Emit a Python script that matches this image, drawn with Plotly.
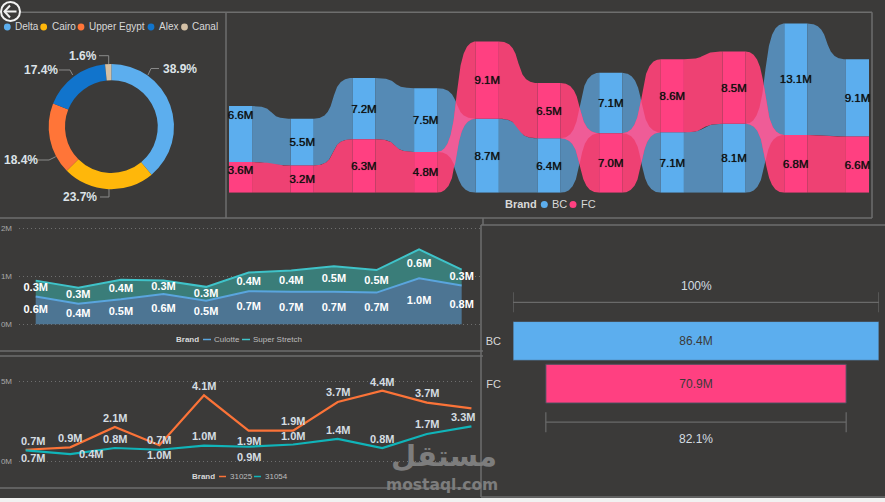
import numpy as np
import plotly.graph_objects as go

W, H = 885, 502
BG = "#3b3a39"
FONT = "Liberation Sans"

# Donut
region_names = ["Delta", "Cairo", "Upper Egypt", "Alex", "Canal"]
region_share = [38.9, 23.7, 18.4, 17.4, 1.6]
region_colors = ["#5caeee", "#ffb70a", "#ff7538", "#1174cc", "#d4c0a5"]

# Ribbon
ribbon_bc = [6.6, 5.5, 7.2, 7.5, 8.7, 6.4, 7.1, 7.1, 8.1, 13.1, 9.1]
ribbon_fc = [3.6, 3.2, 6.3, 4.8, 9.1, 6.5, 7.0, 8.6, 8.5, 6.8, 6.6]

# Stacked area
culotte = [0.58, 0.43, 0.52, 0.63, 0.49, 0.69, 0.68, 0.68, 0.66, 0.96, 0.81]
super_stretch = [0.33, 0.33, 0.41, 0.28, 0.29, 0.39, 0.44, 0.53, 0.47, 0.60, 0.33]

# Lines
style_31025 = [0.71, 0.86, 2.14, 1.0, 4.14, 1.91, 1.91, 3.72, 4.44, 3.68, 3.32]
style_31054 = [0.67, 0.44, 0.82, 0.71, 0.97, 0.90, 1.04, 1.39, 0.82, 1.70, 2.18]

# Funnel
funnel_brands = ["BC", "FC"]
funnel_values = [86.4, 70.9]

BLUE, PINK = "#5caeee", "#ff4081"
BLUE_RIBBON, PINK_RIBBON = "#558ab5", "#ee4173"
PINK_CROSS = "#ef5c97"
LINE = "#6e6e6e"


def px(x):
    return x / W


def py(y):
    return 1 - y / H


def dom_x(a, b):
    return [px(a), px(b)]


def dom_y(top, bottom):
    return [py(bottom), py(top)]


def fmt(v):
    return f"{v:.1f}M"


shapes, annotations = [], []


def hline(x0, y0, x1, y1, color=LINE, width=1.5):
    shapes.append(dict(type="line", xref="paper", yref="paper", x0=px(x0), y0=py(y0),
                       x1=px(x1), y1=py(y1), line=dict(color=color, width=width)))


def poly(points, color="#8a8a8a", width=1):
    path = "M " + " L ".join(f"{px(a):.5f} {py(b):.5f}" for a, b in points)
    shapes.append(dict(type="path", xref="paper", yref="paper", path=path,
                       line=dict(color=color, width=width)))


def dot(cx, cy, r, color):
    shapes.append(dict(type="circle", xref="paper", yref="paper", x0=px(cx - r), x1=px(cx + r),
                       y0=py(cy + r), y1=py(cy - r), fillcolor=color, line=dict(width=0)))


def label(x, y, text, size=10, color="#d6d6d6", bold=False, anchor="left", family=FONT, shadow=None):
    f = dict(family=family, size=size, color=color)
    if shadow:
        f["shadow"] = shadow
    annotations.append(dict(xref="paper", yref="paper", x=px(x), y=py(y), xanchor=anchor, yanchor="middle",
                            text=f"<b>{text}</b>" if bold else text, showarrow=False, font=f))


fig = go.Figure()

# ---- Donut of regional share ----
fig.add_trace(go.Pie(values=region_share, labels=region_names, sort=False, direction="clockwise",
                     rotation=0, hole=0.74, textinfo="none", showlegend=False,
                     marker=dict(colors=region_colors, line=dict(width=0)),
                     domain=dict(x=dom_x(48.7, 174), y=dom_y(64, 189.3))))

legend_layout = [(7.3, 13), (43.7, 49.5), (81, 87), (151, 157), (184.5, 190)]
for (cx, tx), name, col in zip(legend_layout, region_names, region_colors):
    dot(cx, 27, 3.4, col)
    label(tx, 27, name, size=10, color="#d8d8d8")

donut_labels = [(180, 68.5), (80, 197), (21, 160), (40.7, 69.5), (83, 55.7)]
donut_leaders = [
    [(148, 75), (151, 68.5), (159, 68.5)],
    [(109, 189), (109, 197), (100, 197)],
    [(55.7, 156.7), (49, 160), (38, 160)],
    [(72.7, 75), (70, 70), (59, 70)],
    [(108.7, 64), (108.7, 55.7), (99, 55.7)],
]
for (x, y), leader, v in zip(donut_labels, donut_leaders, region_share):
    poly(leader)
    label(x, y, f"{v:.1f}%", size=12, color="#dce3e8", bold=True, anchor="center")

# ---- Ribbon of BC vs FC, stacked largest on top ----
n_cols = len(ribbon_bc)
half = 0.187
curve = 0.7


def bands(i):
    bc, fc = ribbon_bc[i], ribbon_fc[i]
    if bc >= fc:
        return dict(BC=(fc, fc + bc), FC=(0, fc))
    return dict(BC=(0, bc), FC=(bc, bc + fc))


t = np.linspace(0, 1, 161)
x_frac = 3 * t * (1 - t) ** 2 * curve + 3 * t ** 2 * (1 - t) * (1 - curve) + t ** 3
y_frac = 3 * t ** 2 - 2 * t ** 3
for i in range(n_cols - 1):
    x0, x1 = i + half, i + 1 - half
    xs = x0 + (x1 - x0) * x_frac
    a, b = bands(i), bands(i + 1)
    edges = {}
    for brand, color in (("BC", BLUE_RIBBON), ("FC", PINK_RIBBON)):
        lo = a[brand][0] + (b[brand][0] - a[brand][0]) * y_frac
        hi = a[brand][1] + (b[brand][1] - a[brand][1]) * y_frac
        edges[brand] = (lo, hi)
        fig.add_trace(go.Scatter(x=np.r_[xs, xs[::-1]], y=np.r_[hi, lo[::-1]], fill="toself", mode="lines",
                                 line=dict(width=0), fillcolor=color, hoverinfo="skip", showlegend=False,
                                 xaxis="x", yaxis="y"))
    # Where the two ribbons swap order they overlap in a lighter pink
    grid = np.linspace(x0, x1, 200)
    lo = np.maximum(np.interp(grid, xs, edges["BC"][0]), np.interp(grid, xs, edges["FC"][0]))
    hi = np.minimum(np.interp(grid, xs, edges["BC"][1]), np.interp(grid, xs, edges["FC"][1]))
    keep = hi > lo + 1e-6
    if keep.any():
        gx, glo, ghi = grid[keep], lo[keep], hi[keep]
        fig.add_trace(go.Scatter(x=np.r_[gx, gx[::-1]], y=np.r_[ghi, glo[::-1]], fill="toself", mode="lines",
                                 line=dict(width=0), fillcolor=PINK_CROSS, hoverinfo="skip", showlegend=False,
                                 xaxis="x", yaxis="y"))

cols = list(range(n_cols))
for brand, values, color in (("BC", ribbon_bc, BLUE), ("FC", ribbon_fc, PINK)):
    base = [bands(i)[brand][0] for i in cols]
    fig.add_trace(go.Bar(x=cols, y=values, base=base, width=2 * half, marker=dict(color=color, line=dict(width=0)),
                         showlegend=False, hoverinfo="skip", xaxis="x", yaxis="y"))
    # Labels sit at each band's middle, except the first column where they ride higher
    mids = [base[i] + values[i] / 2 - 0.15 + ((2.2 if brand == "BC" else 0.85) if i == 0 else 0) for i in cols]
    fig.add_trace(go.Scatter(x=cols, y=mids, mode="text", text=[fmt(v) for v in values], cliponaxis=False,
                             textfont=dict(family=FONT, size=11.5, color="#111111", shadow="0 0 0.7px #111111"),
                             showlegend=False, hoverinfo="skip", xaxis="x", yaxis="y"))

label(503, 204, "Brand", size=11, color="#d8d8d8", bold=True)
dot(544.3, 204.5, 3.5, BLUE)
label(550, 204, "BC", size=11, color="#d8d8d8")
dot(573, 204.5, 3.5, PINK)
label(579, 204, "FC", size=11, color="#d8d8d8")

# ---- Stacked area ----
idx = list(range(len(culotte)))
fig.add_trace(go.Scatter(x=idx, y=culotte, stackgroup="a", mode="lines", line=dict(color="#5aa5de", width=2),
                         fillcolor="#4d7593", showlegend=False, hoverinfo="skip", xaxis="x2", yaxis="y2"))
fig.add_trace(go.Scatter(x=idx, y=super_stretch, stackgroup="a", mode="lines", line=dict(color="#3fc3c9", width=2),
                         fillcolor="#3a7d79", showlegend=False, hoverinfo="skip", xaxis="x2", yaxis="y2"))
mid_c = [c / 2 for c in culotte]
mid_s = [c + s / 2 for c, s in zip(culotte, super_stretch)]
for mids, vals in ((mid_c, culotte), (mid_s, super_stretch)):
    fig.add_trace(go.Scatter(x=idx, y=mids, mode="text", text=[fmt(v) for v in vals], cliponaxis=False,
                             textfont=dict(family=FONT, size=11, color="#ffffff", weight="bold"),
                             showlegend=False, hoverinfo="skip", xaxis="x2", yaxis="y2"))

label(174, 339, "Brand", size=8, color="#d8d8d8", bold=True)
hline(203, 339.5, 211, 339.5, color="#5aa5de", width=1.5)
label(212, 339, "Culotte", size=8, color="#bdbdbd")
hline(242, 339.5, 250, 339.5, color="#3fc3c9", width=1.5)
label(251, 339, "Super Stretch", size=8, color="#bdbdbd")

# ---- Two styles over time ----
LINE_A, LINE_B = "#fb7338", "#10b4b9"
fig.add_trace(go.Scatter(x=idx, y=style_31025, mode="lines", line=dict(color=LINE_A, width=2.2),
                         showlegend=False, hoverinfo="skip", xaxis="x3", yaxis="y3"))
fig.add_trace(go.Scatter(x=idx, y=style_31054, mode="lines", line=dict(color=LINE_B, width=2.2),
                         showlegend=False, hoverinfo="skip", xaxis="x3", yaxis="y3"))
shift_a = [(7.5, 9), (0, 9), (0, 9), (0, -10), (0, 9), (0, -10), (0, 10), (0, 10), (0, 9), (0, 10), (-8.5, -9)]
shift_b = [(7.5, -8), (21, 0), (0, 9), (0, 10), (0, 10), (0, -10), (0, 9), (0, 9), (0, 9), (0, 10)]
for vals, shifts in ((style_31025, shift_a), (style_31054, shift_b)):
    for i, (dx, dy) in enumerate(shifts):
        annotations.append(dict(xref="x3", yref="y3", x=i, y=vals[i], xshift=dx, yshift=dy, showarrow=False,
                                text=f"<b>{fmt(vals[i])}</b>", yanchor="middle",
                                font=dict(family=FONT, size=11, color="#d5dde2")))

label(190, 476, "Brand", size=8, color="#d8d8d8", bold=True)
hline(219, 476.5, 226, 476.5, color=LINE_A, width=1.5)
label(228, 476, "31025", size=8, color="#bdbdbd")
hline(254, 476.5, 261, 476.5, color=LINE_B, width=1.5)
label(263, 476, "31054", size=8, color="#bdbdbd")

# ---- Funnel of BC and FC ----
fig.add_trace(go.Funnel(y=funnel_brands, x=funnel_values, orientation="h", text=[fmt(v) for v in funnel_values],
                        textinfo="text", textposition="inside", insidetextanchor="middle",
                        textfont=dict(family=FONT, size=12, color="#3b3a39"), constraintext="none",
                        marker=dict(color=[BLUE, PINK], line=dict(width=1, color="#44505c")),
                        connector=dict(visible=False), showlegend=False, hoverinfo="skip",
                        xaxis="x4", yaxis="y4"))


def bracket(value, y, color="#6a6a6a"):
    for x0, y0, x1, y1 in ((-value / 2, y, value / 2, y),
                           (-value / 2, y - 10, -value / 2, y + 10),
                           (value / 2, y - 10, value / 2, y + 10)):
        shapes.append(dict(type="line", xref="x4", yref="paper", x0=x0, x1=x1, y0=py(y0), y1=py(y1),
                           line=dict(color=color, width=1.2)))


bracket(funnel_values[0], 302.3)
bracket(funnel_values[1], 422.2)
label(696, 285.7, "100%", size=12, color="#d5dde2", anchor="center")
label(696, 438.7, f"{funnel_values[1] / funnel_values[0] * 100:.1f}%", size=12, color="#d5dde2", anchor="center")

# ---- Panel frames ----
hline(0, 12.3, 872, 12.3)
hline(226, 12.3, 226, 218)
hline(872, 12.3, 872, 218)
hline(0, 218, 872, 218)
hline(483, 218, 483, 225)
hline(0, 351, 483, 351)
hline(0, 356, 483, 356)
hline(0, 488, 481, 488)
hline(481, 225, 481, 497)
hline(481, 225, 885, 225)
hline(481, 497, 885, 497)
shapes.append(dict(type="rect", xref="paper", yref="paper", x0=0, x1=1, y0=0, y1=py(498),
                   fillcolor="#f1f1f1", line=dict(width=0), layer="below"))

# ---- Back button ----
shapes.append(dict(type="circle", xref="paper", yref="paper", x0=px(1), x1=px(20), y0=py(21), y1=py(2),
                   line=dict(color="#f2f2f2", width=2), fillcolor=BG))
poly([(16.5, 11.5), (4.5, 11.5)], color="#f2f2f2", width=2)
poly([(10, 5.5), (4.5, 11.5), (10, 17.5)], color="#f2f2f2", width=2)

# ---- Site mark ----
label(444, 456, "مستقل", size=29, color="#7d7d7d", bold=True, anchor="center", family="DejaVu Sans")
label(442, 485, "mostaql.com", size=15.5, color="#7d7d7d", bold=True, anchor="center", family="DejaVu Sans")

hidden = dict(visible=False, fixedrange=True)
tick_font = dict(family=FONT, size=8, color="#a8a8a8")
grid_dash = "1px,3px"


def value_axis(top, bottom, rng, vals, texts):
    return dict(domain=dom_y(top, bottom), range=rng, tickvals=vals, ticktext=texts, showgrid=True,
                gridcolor="#6e6e6e", griddash=grid_dash, gridwidth=1, zeroline=False, showline=False,
                tickfont=tick_font, ticks="", ticklabelstandoff=6, automargin=False)


fig.update_layout(
    width=W, height=H, margin=dict(l=0, r=0, t=0, b=0, autoexpand=False), paper_bgcolor=BG,
    plot_bgcolor="rgba(0,0,0,0)",
    showlegend=False, barmode="overlay", funnelmode="overlay", funnelgap=0.09,
    shapes=shapes, annotations=annotations, font=dict(family=FONT),
    xaxis=dict(domain=dom_x(229, 869), range=[-half, n_cols - 1 + half], **hidden),
    yaxis=dict(domain=dom_y(22.7, 192.7), range=[0, 20], **hidden),
    xaxis2=dict(domain=dom_x(19, 480), range=[-0.392, 10.43], **hidden),
    yaxis2=dict(anchor="x2", **value_axis(225.9, 326.7, [-0.05, 2.05], [0, 1, 2], ["0M", "1M", "2M"])),
    xaxis3=dict(domain=dom_x(19, 475), range=[-0.15, 10.08], **hidden),
    yaxis3=dict(anchor="x3", **value_axis(379.3, 463.4, [-0.15, 5.15], [0, 5], ["0M", "5M"])),
    xaxis4=dict(domain=dom_x(513, 879), range=[-funnel_values[0] / 2, funnel_values[0] / 2], **hidden),
    yaxis4=dict(domain=dom_y(319.6, 405), anchor="x4", autorange="reversed", type="category", showgrid=False,
                zeroline=False, showline=False, ticks="", ticklabelstandoff=11, automargin=False,
                tickfont=dict(family=FONT, size=11, color="#d8d8d8")),
)

fig.write_html("out.html")
